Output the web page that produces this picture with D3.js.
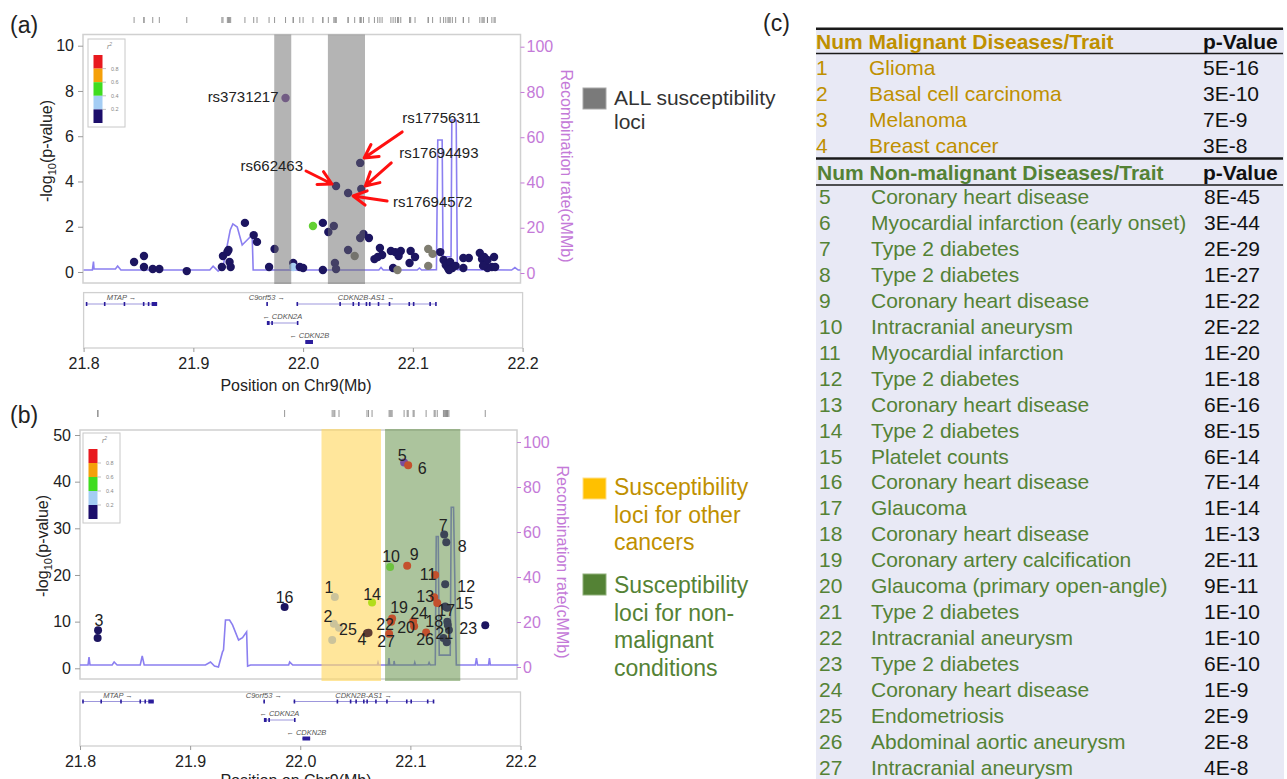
<!DOCTYPE html>
<html>
<head>
<meta charset="utf-8">
<script src="https://cdn.jsdelivr.net/npm/d3@7"></script>
<style>
body { margin: 0; background: #fff; }
text { font-family: "Liberation Sans", Arial, sans-serif; }
</style>
</head>
<body>
<div id="viz"></div>
<script>
// ---- data ----
// panel (a): [position Mb, -log10 p, r2 class, snp id]
var snpsA = [
	[21.846,0.44,'n'],[21.855,0.71,'n'],[21.855,0.22,'n'],[21.863,0.13,'n'],[21.869,0.13,'n'],[21.894,0.04,'n'],
	[21.926,0.22,'n'],[21.927,0.71,'n'],[21.931,0.88,'n'],[21.932,0.97,'n'],[21.933,0.44,'n'],[21.934,0.22,'n'],
	[21.947,2.17,'n'],[21.955,1.63,'n'],[21.958,1.33,'n'],[21.969,0.22,'n'],[21.974,1.02,'n'],
	[21.984,7.69,'p','rs3731217'],
	[21.991,0.40,'n'],[21.991,0.22,'b'],[21.997,0.22,'n'],[22.000,0.18,'n'],
	[22.009,2.03,'g'],[22.018,2.17,'n'],[22.023,1.77,'n'],[22.018,0.09,'n'],
	[22.028,2.03,'n'],[22.029,0.40,'n'],[22.030,0.13,'n'],
	[22.030,3.80,'n','rs662463'],[22.041,3.49,'n','rs17694572'],[22.052,4.82,'n','rs17756311'],[22.053,3.67,'n','rs17694493'],
	[22.041,0.97,'n'],[22.047,0.71,'x'],[22.052,1.50,'n'],[22.055,1.68,'n'],
	[22.060,1.50,'n'],[22.065,0.57,'n'],[22.068,0.66,'n'],[22.070,1.06,'n'],[22.072,0.75,'n'],
	[22.080,0.93,'n'],[22.084,0.88,'n'],[22.089,0.93,'n'],[22.087,0.71,'n'],[22.082,0.18,'n'],[22.086,0.09,'x'],
	[22.097,0.40,'n'],[22.098,0.93,'n'],[22.102,0.66,'n'],
	[22.114,1.02,'x'],[22.118,0.80,'x'],[22.114,0.27,'x'],[22.125,0.88,'n'],
	[22.128,0.53,'n'],[22.130,0.31,'n'],[22.132,0.18,'n'],[22.134,0.44,'n'],[22.136,0.18,'n'],[22.139,0.27,'n'],[22.133,0.09,'n'],
	[22.146,0.62,'n'],[22.146,0.18,'n'],[22.151,0.62,'n'],
	[22.161,0.84,'n'],[22.163,0.57,'n'],[22.165,0.66,'n'],[22.168,0.53,'n'],[22.174,0.66,'n'],
	[22.172,0.22,'n'],[22.168,0.18,'n'],[22.164,0.27,'n'],[22.175,0.22,'n']
];

// recombination rate (cM/Mb): [position Mb, rate]
var recombA = [
	[21.800,1.3],[21.808,1.3],[21.809,5.0],[21.8095,1.8],[21.829,1.8],[21.831,3.1],[21.834,1.3],
	[21.915,1.3],[21.918,3.0],[21.9226,0.8],[21.927,2.7],[21.9336,19.0],[21.936,21.7],[21.940,20.3],
	[21.9445,12.4],[21.949,14.6],[21.9536,16.8],[21.9545,1.3],
	[22.069,1.3],[22.071,2.4],[22.073,1.3],[22.104,1.3],[22.106,2.2],[22.108,1.3],
	[22.1215,1.5],[22.1227,58.8],[22.1267,58.8],[22.1275,7.2],[22.1348,7.2],[22.1355,67.6],[22.1395,67.6],[22.1405,1.5],
	[22.190,1.3],[22.193,2.4],[22.196,1.3],[22.198,1.3]
];
var recombB = [
	[21.800,0.9],[21.8073,0.9],[21.8082,4.4],[21.8091,0.9],[21.8292,0.9],[21.831,2.2],[21.8337,0.9],
	[21.8547,0.9],[21.8565,4.9],[21.8583,0.9],
	[21.9139,0.9],[21.9185,2.2],[21.9221,0.4],[21.9257,0.0],[21.9294,6.7],[21.9303,7.5],[21.9321,20.9],
	[21.9358,20.9],[21.9385,18.7],[21.944,12.0],[21.9476,13.0],[21.9513,15.6],[21.9522,0.4],[21.9549,0.9],
	[21.9895,0.9],[21.9904,2.2],[21.9932,0.9],[22.070,0.9],[22.0706,2.0],[22.0712,0.9],
	[22.080,0.9],[22.0806,4.0],[22.0812,0.9],[22.085,0.9],[22.0852,2.7],[22.0858,0.9],
	[22.1034,0.9],[22.104,2.0],[22.1046,0.9],[22.1162,1.0],[22.117,2.0],[22.118,0.9],
	[22.1226,1.0],[22.1235,58],[22.1253,58],[22.1262,5.3],[22.1362,5.3],[22.1371,71],[22.1392,71],[22.1417,0.9],
	[22.159,0.9],[22.16,4.0],[22.161,0.9],[22.171,0.9],[22.1718,4.0],[22.1726,0.9],[22.198,0.9]
];

// shaded loci (Mb)
var bandsA = [[21.9737,21.9892],[22.0226,22.0564]];
var bandOtherCancers = [22.0193,22.0733];
var bandNonMalignant = [22.077,22.1453];

// panel (c) table
var malignantTraits = ['Glioma','Basal cell carcinoma','Melanoma','Breast cancer'];
var malignantP = ['5E-16','3E-10','7E-9','3E-8'];
var nonMalignantTraits = ['Coronary heart disease','Myocardial infarction (early onset)','Type 2 diabetes',
	'Type 2 diabetes','Coronary heart disease','Intracranial aneurysm','Myocardial infarction','Type 2 diabetes',
	'Coronary heart disease','Type 2 diabetes','Platelet counts','Coronary heart disease','Glaucoma',
	'Coronary heart disease','Coronary artery calcification','Glaucoma (primary open-angle)','Type 2 diabetes',
	'Intracranial aneurysm','Type 2 diabetes','Coronary heart disease','Endometriosis','Abdominal aortic aneurysm',
	'Intracranial aneurysm'];
var nonMalignantP = ['8E-45','3E-44','2E-29','1E-27','1E-22','2E-22','1E-20','1E-18','6E-16','8E-15','6E-14',
	'7E-14','1E-14','1E-13','2E-11','9E-11','1E-10','1E-10','6E-10','1E-9','2E-9','2E-8','4E-8'];

// panel (b): position (Mb) and r2 class of the numbered loci 1..27
var locusPos = [22.0314,22.0305,21.8164,22.0606,22.0943,22.098,22.1307,22.1326,22.0971,22.0816,
	22.1225,22.1316,22.1216,22.0652,22.1316,21.9858,22.1244,22.1335,22.0834,22.1025,
	22.1335,22.0825,22.168,22.1034,22.0352,22.1143,22.0807];
var locusClass = ['tan','tan','n','brown','p','red','slate','slate','red','green',
	'red','slate','red','yg','slate','n','red','slate','red','red',
	'slate','red','n','red','tan','red','red'];
// unnumbered points in (b): [Mb, -log10 p, class]
var extraB = [[21.816,6.5,'n'],[22.029,6.07,'tan'],[22.062,7.6,'brown'],[22.130,6.5,'slate'],
	[22.133,5.6,'slate'],[22.135,8.2,'slate'],[22.134,9.3,'slate']];

// genes: name, start, end, strand, row, exons
var geneNames = ['MTAP','C9orf53','CDKN2B-AS1','CDKN2A','CDKN2B'];
var geneStart = [21.802,21.9665,21.994,21.967,22.002];
var geneEnd = [21.867,21.9675,22.121,21.995,22.009];
var geneStrand = ['+','+','+','-','-'];
var geneRow = [0,0,0,1,2];
var geneExons = [
	[[21.802,21.8027],[21.8185,21.8192],[21.8365,21.8372],[21.854,21.8547],[21.8585,21.8592],[21.862,21.867]],
	[[21.9665,21.9675]],
	[[21.994,21.9947],[22.033,22.0337],[22.045,22.0457],[22.050,22.0507],[22.057,22.0577],[22.060,22.0607],
	 [22.068,22.0687],[22.078,22.0787],[22.096,22.0967],[22.100,22.1007],[22.115,22.1157],[22.1203,22.121]],
	[[21.967,21.9695],[21.971,21.9725],[21.9943,21.995]],
	[[22.002,22.009]]
];

var r2Colors = ['#e8191e','#f5a00a','#3fdc1f','#a4cdf4','#1c0e6b'];
var r2Labels = ['0.8','0.6','0.4','0.2'];
var xTicks = [21.8,21.9,22.0,22.1,22.2];

// ---- style ----
var ptColor = {n:'#1c1560', p:'#7b4e9e', g:'#62d034', b:'#a6cef2', x:'#7f7d70',
	tan:'#cbc39b', brown:'#5e3c33', yg:'#b2dd1c', red:'#c4502d', slate:'#3c4456', green:'#6cc23e'};
var violet = '#c47ad8',
	lineColor = '#8b7ff0',
	frameColor = '#d0d0d0',
	gold = '#bf9000',
	leafGreen = '#548235';

var W = 1287, H = 779;
var svg = d3.select('#viz').append('svg')
	.attr('width', W)
	.attr('height', H);

// label placement for panel (b) numbers: [dx, dy] from the point
var labelNudgeB = {1:[-6,-10],2:[-6,-7],3:[1,-10],4:[-5,6],5:[-2,-7],6:[14,3],7:[-1,-9],8:[16,4],9:[7,-11],
	10:[1,-11],11:[-7,-1],12:[21,2],13:[-9,-1],14:[0,-8],15:[19,-3],16:[0,-10],17:[9,7],18:[-13,14],
	19:[7,-11],20:[-7,6],21:[-3,12],22:[-6,3],23:[-17,3],24:[5,-13],25:[9,2],26:[-1,7],27:[-3,8]};

// annotation for panel (a): label offset and arrow [tailDx, tailDy, tipDx, tipDy]
var annotA = {
	rs3731217: {dx:-7, dy:4, anchor:'end'},
	rs662463: {dx:-33, dy:-15, anchor:'end', arrow:[-30,-15,-4,-2]},
	rs17756311: {dx:42, dy:-40, anchor:'start', arrow:[42,-31,4,-5]},
	rs17694493: {dx:38, dy:-31, anchor:'start', arrow:[30,-26,4,-3]},
	rs17694572: {dx:45, dy:14, anchor:'start', arrow:[39,8,5,3]}
};

function styleAxis(g, color, size) {
	g.select('.domain').remove();
	g.selectAll('.tick line').attr('stroke', color === violet ? violet : '#9a9a9a');
	g.selectAll('.tick text')
		.attr('fill', color)
		.attr('font-size', size)
		.attr('font-family', '"Liberation Sans", Arial, sans-serif');
}

function drawLocus(o) {
	var g = svg.append('g');
	var x = d3.scaleLinear().domain([21.8, 22.2]).range([o.x0, o.x1]);
	var y = d3.scaleLinear().domain([0, o.yMax]).range([o.yBase, o.yTop]);
	var yr = d3.scaleLinear().domain([0, 100]).range([o.rBase, o.rTop]);

	// rug of marker positions
	g.selectAll('.rug')
		.data(o.points)
		.enter().append('line')
			.attr('x1', function(d){ return x(d[0]); })
			.attr('x2', function(d){ return x(d[0]); })
			.attr('y1', o.rugTop)
			.attr('y2', o.rugBot)
			.attr('stroke', '#8a8a8a')
			.attr('stroke-width', 0.9);

	g.append('rect')
		.attr('x', o.fx0).attr('y', o.fy0)
		.attr('width', o.fx1 - o.fx0).attr('height', o.fy1 - o.fy0)
		.attr('fill', '#fff')
		.attr('stroke', frameColor)
		.attr('stroke-width', 1.5);

	var line = d3.line()
		.x(function(d){ return x(d[0]); })
		.y(function(d){ return yr(d[1]); });

	function bands() {
		g.selectAll('.band' + o.id)
			.data(o.bands)
			.enter().append('rect')
				.attr('x', function(d){ return x(d.range[0]); })
				.attr('width', function(d){ return x(d.range[1]) - x(d.range[0]); })
				.attr('y', o.bandTop)
				.attr('height', o.bandBot - o.bandTop)
				.attr('fill', function(d){ return d.color; })
				.attr('opacity', function(d){ return d.opacity; });
	}

	g.append('path')
		.datum(o.recomb)
		.attr('d', line)
		.attr('fill', 'none')
		.attr('stroke', lineColor)
		.attr('stroke-width', 1.6);

	if (!o.bandsOver) { bands(); }

	g.selectAll('.pt')
		.data(o.points)
		.enter().append('circle')
			.attr('cx', function(d){ return x(d[0]); })
			.attr('cy', function(d){ return y(d[1]); })
			.attr('r', o.r)
			.attr('fill', function(d){ return ptColor[d[2]]; });

	if (o.bandsOver) { bands(); }

	// left axis
	var la = g.append('g')
		.attr('transform', 'translate(' + o.fx0 + ',0)')
		.call(d3.axisLeft(y).tickValues(o.yTicks).tickSize(5).tickPadding(4));
	styleAxis(la, '#222', 16);

	// right axis
	var ra = g.append('g')
		.attr('transform', 'translate(' + o.fx1 + ',0)')
		.call(d3.axisRight(yr).tickValues([0,20,40,60,80,100]).tickSize(4).tickPadding(2));
	styleAxis(ra, violet, 16);

	var yl = g.append('text')
		.attr('transform', 'translate(' + o.yLabX + ',' + o.yLabY + ') rotate(-90)')
		.attr('text-anchor', 'middle')
		.attr('font-size', 16)
		.attr('fill', '#222');
	yl.append('tspan').text('-log');
	yl.append('tspan').attr('font-size', 11).attr('dy', 4).text('10');
	yl.append('tspan').attr('dy', -4).text('(p-value)');

	g.append('text')
		.attr('transform', 'translate(' + (o.fx1 + 40) + ',' + o.rLabY + ') rotate(90)')
		.attr('text-anchor', 'middle')
		.attr('font-size', 16)
		.attr('fill', violet)
		.text('Recombination rate(cMMb)');

	// r2 legend
	var lg = g.append('g').attr('transform', 'translate(' + o.legX + ',' + o.legY + ')');
	lg.append('rect')
		.attr('width', 37).attr('height', o.legH)
		.attr('fill', '#fff').attr('stroke', '#c8c8c8');
	var sq = (o.legH - 20) / 5;
	lg.selectAll('.sw')
		.data(r2Colors)
		.enter().append('rect')
			.attr('x', 5.5).attr('y', function(d,i){ return 16 + i * sq; })
			.attr('width', 9).attr('height', sq)
			.attr('fill', function(d){ return d; });
	lg.selectAll('.sl')
		.data(r2Labels)
		.enter().append('text')
			.attr('x', 23).attr('y', function(d,i){ return 16 + (i + 1) * sq + 2; })
			.attr('font-size', 5.5).attr('fill', '#888')
			.text(function(d){ return d; });
	lg.selectAll('.st')
		.data(r2Labels)
		.enter().append('line')
			.attr('x1', 14.5).attr('x2', 18)
			.attr('y1', function(d,i){ return 16 + (i + 1) * sq; })
			.attr('y2', function(d,i){ return 16 + (i + 1) * sq; })
			.attr('stroke', '#999').attr('stroke-width', 0.6);
	var r2t = lg.append('text')
		.attr('x', 19).attr('y', 10)
		.attr('font-size', 7).attr('font-style', 'italic').attr('fill', '#888');
	r2t.append('tspan').text('r');
	r2t.append('tspan').attr('font-size', 5).attr('dy', -3).text('2');

	// gene track
	g.append('rect')
		.attr('x', o.x0).attr('y', o.gy0)
		.attr('width', o.x1 - o.x0).attr('height', o.gy1 - o.gy0)
		.attr('fill', '#fff')
		.attr('stroke', frameColor)
		.attr('stroke-width', 1.3);
	var gi = d3.range(geneNames.length);
	g.selectAll('.gline')
		.data(gi)
		.enter().append('line')
			.attr('x1', function(i){ return x(geneStart[i]); })
			.attr('x2', function(i){ return x(geneEnd[i]); })
			.attr('y1', function(i){ return o.rowLine[geneRow[i]]; })
			.attr('y2', function(i){ return o.rowLine[geneRow[i]]; })
			.attr('stroke', '#9d97dc')
			.attr('stroke-width', 1);
	gi.forEach(function(i){
		g.selectAll('.ex' + i)
			.data(geneExons[i])
			.enter().append('rect')
				.attr('x', function(d){ return x(d[0]); })
				.attr('width', function(d){ return Math.max(1.6, x(d[1]) - x(d[0])); })
				.attr('y', o.rowLine[geneRow[i]] - 2)
				.attr('height', 4)
				.attr('fill', '#2b1d9c');
	});
	g.selectAll('.glab')
		.data(gi)
		.enter().append('text')
			.attr('x', function(i){ return x((geneStart[i] + geneEnd[i]) / 2); })
			.attr('y', function(i){ return o.rowLine[geneRow[i]] - 4; })
			.attr('text-anchor', 'middle')
			.attr('font-size', 7.5)
			.attr('font-style', 'italic')
			.attr('fill', '#555')
			.text(function(i){ return geneStrand[i] === '+' ? geneNames[i] + ' \u2192' : '\u2190 ' + geneNames[i]; });

	var xa = g.append('g')
		.attr('transform', 'translate(0,' + o.gy1 + ')')
		.call(d3.axisBottom(x).tickValues(xTicks).tickFormat(d3.format('.1f')).tickSize(4).tickPadding(6));
	styleAxis(xa, '#222', 16);

	g.append('text')
		.attr('x', o.xLabX).attr('y', o.xLabY)
		.attr('text-anchor', 'middle')
		.attr('font-size', 16)
		.attr('fill', '#222')
		.text('Position on Chr9(Mb)');

	g.append('text')
		.attr('x', 10).attr('y', o.tagY)
		.attr('font-size', 23)
		.attr('fill', '#222')
		.text(o.tag);

	return {g: g, x: x, y: y};
}

// ---- panel (a) ----
var pa = drawLocus({
	id: 'a', tag: '(a)', tagY: 33,
	x0: 83.6, x1: 522.6, fx0: 83, fx1: 520.5, fy0: 34.5, fy1: 283,
	yMax: 10, yBase: 272, yTop: 45.7, rBase: 273, rTop: 46.7, yTicks: [0,2,4,6,8,10],
	rugTop: 17, rugBot: 23, r: 4.2,
	points: snpsA, recomb: recombA,
	bands: bandsA.map(function(b){ return {range: b, color: '#6a6a6a', opacity: 0.5}; }),
	bandsOver: true, bandTop: 34.5, bandBot: 284,
	yLabX: 52, yLabY: 151, rLabY: 166,
	legX: 88, legY: 39, legH: 88,
	gy0: 292.6, gy1: 348, rowLine: [304, 323, 342],
	xLabX: 296, xLabY: 391
});

// snp labels and arrows in (a)
snpsA.filter(function(d){ return d[3]; }).forEach(function(d){
	var a = annotA[d[3]];
	var px = pa.x(d[0]), py = pa.y(d[1]);
	pa.g.append('text')
		.attr('x', px + a.dx).attr('y', py + a.dy)
		.attr('text-anchor', a.anchor)
		.attr('font-size', 15)
		.attr('fill', '#222')
		.text(d[3]);
	if (a.arrow) {
		var tx = px + a.arrow[0], ty = py + a.arrow[1],
			hx = px + a.arrow[2], hy = py + a.arrow[3];
		var ang = Math.atan2(ty - hy, tx - hx), len = 15;
		var path = 'M' + tx + ',' + ty + 'L' + hx + ',' + hy +
			'M' + (hx + len * Math.cos(ang + 0.5)) + ',' + (hy + len * Math.sin(ang + 0.5)) +
			'L' + hx + ',' + hy +
			'L' + (hx + len * Math.cos(ang - 0.5)) + ',' + (hy + len * Math.sin(ang - 0.5));
		pa.g.append('path')
			.attr('d', path)
			.attr('fill', 'none')
			.attr('stroke', '#ff1010')
			.attr('stroke-width', 3)
			.attr('stroke-linecap', 'round')
			.attr('stroke-linejoin', 'round');
	}
});

// ---- panel (b) ----
var allP = malignantP.concat(nonMalignantP);
var pointsB = locusPos.map(function(pos, i){
	return [pos, -Math.log10(+allP[i]), locusClass[i], i + 1];
}).concat(extraB);

var pb = drawLocus({
	id: 'b', tag: '(b)', tagY: 423,
	x0: 80, x1: 520.5, fx0: 80, fx1: 517, fy0: 430, fy1: 679,
	yMax: 50, yBase: 668.3, yTop: 435, rBase: 667, rTop: 442, yTicks: [0,10,20,30,40,50],
	rugTop: 410, rugBot: 417, r: 4,
	points: pointsB, recomb: recombB,
	bands: [{range: bandOtherCancers, color: '#ffd966', opacity: 0.65},
		{range: bandNonMalignant, color: '#5a8a3c', opacity: 0.5}],
	bandsOver: false, bandTop: 429, bandBot: 681,
	yLabX: 48, yLabY: 546, rLabY: 562,
	legX: 83, legY: 433, legH: 90,
	gy0: 692, gy1: 746, rowLine: [701.5, 720, 738.5],
	xLabX: 296, xLabY: 786
});

pb.g.selectAll('.num')
	.data(pointsB.filter(function(d){ return d[3]; }))
	.enter().append('text')
		.attr('x', function(d){ return pb.x(d[0]) + labelNudgeB[d[3]][0]; })
		.attr('y', function(d){ return pb.y(d[1]) + labelNudgeB[d[3]][1]; })
		.attr('dy', '0.35em')
		.attr('text-anchor', 'middle')
		.attr('font-size', 16)
		.attr('fill', '#222')
		.text(function(d){ return d[3]; });

// ---- side legends ----
var legA = svg.append('g');
legA.append('rect').attr('x', 583).attr('y', 88).attr('width', 23).attr('height', 21)
	.attr('fill', '#7a7a7a').attr('stroke', '#a8a8a8');
legA.selectAll('text')
	.data(['ALL susceptibility', 'loci'])
	.enter().append('text')
		.attr('x', 614).attr('y', function(d,i){ return 105 + i * 23.5; })
		.attr('font-size', 21).attr('fill', '#333')
		.text(function(d){ return d; });

var legB = svg.append('g');
legB.append('rect').attr('x', 583).attr('y', 478).attr('width', 23).attr('height', 21)
	.attr('fill', '#ffc000').attr('stroke', '#ffe08a');
legB.selectAll('.ty')
	.data(['Susceptibility', 'loci for other', 'cancers'])
	.enter().append('text')
		.attr('x', 614).attr('y', function(d,i){ return 495 + i * 27.5; })
		.attr('font-size', 23).attr('fill', gold)
		.text(function(d){ return d; });
legB.append('rect').attr('x', 583).attr('y', 574).attr('width', 23).attr('height', 21)
	.attr('fill', leafGreen).attr('stroke', '#8fb07a');
legB.selectAll('.tg')
	.data(['Susceptibility', 'loci for non-', 'malignant', 'conditions'])
	.enter().append('text')
		.attr('x', 614).attr('y', function(d,i){ return 593 + i * 27.5; })
		.attr('font-size', 23).attr('fill', leafGreen)
		.text(function(d){ return d; });

// ---- panel (c) table ----
var tbl = svg.append('g');
svg.append('text').attr('x', 763).attr('y', 31).attr('font-size', 23).attr('fill', '#222').text('(c)');

tbl.append('rect')
	.attr('x', 816).attr('y', 28).attr('width', 468).attr('height', H - 28)
	.attr('fill', '#e8e9f5');

[[28.7, 2.6], [53.5, 1.6], [158.5, 2.6], [185, 1.6]].forEach(function(r){
	tbl.append('line')
		.attr('x1', 816).attr('x2', 1283)
		.attr('y1', r[0]).attr('y2', r[0])
		.attr('stroke', '#1a1a1a').attr('stroke-width', r[1]);
});

function header(yb, label, color, xNum) {
	tbl.append('text').attr('x', xNum).attr('y', yb)
		.attr('font-size', 21).attr('font-weight', 'bold').attr('fill', color)
		.text('Num ' + label);
	tbl.append('text').attr('x', 1203).attr('y', yb)
		.attr('font-size', 21).attr('font-weight', 'bold').attr('fill', '#111')
		.text('p-Value');
}
header(49, 'Malignant Diseases/Trait', gold, 816);
header(180, 'Non-malignant Diseases/Trait', leafGreen, 817);

function rows(traits, pvals, first, y0, step, color, xNum, xTrait, xP) {
	var rg = tbl.selectAll('.row' + first)
		.data(traits)
		.enter().append('g');
	rg.append('text')
		.attr('x', xNum).attr('y', function(d,i){ return y0 + i * step; })
		.attr('font-size', 21).attr('fill', color)
		.text(function(d,i){ return first + i; });
	rg.append('text')
		.attr('x', xTrait).attr('y', function(d,i){ return y0 + i * step; })
		.attr('font-size', 21).attr('fill', color)
		.text(function(d){ return d; });
	rg.append('text')
		.attr('x', xP).attr('y', function(d,i){ return y0 + i * step; })
		.attr('font-size', 21).attr('fill', '#111')
		.text(function(d,i){ return pvals[i]; });
}
rows(malignantTraits, malignantP, 1, 75, 26.1, gold, 816, 869, 1203);
rows(nonMalignantTraits, nonMalignantP, 5, 204, 25.95, leafGreen, 819, 871, 1204);
</script>
</body>
</html>
